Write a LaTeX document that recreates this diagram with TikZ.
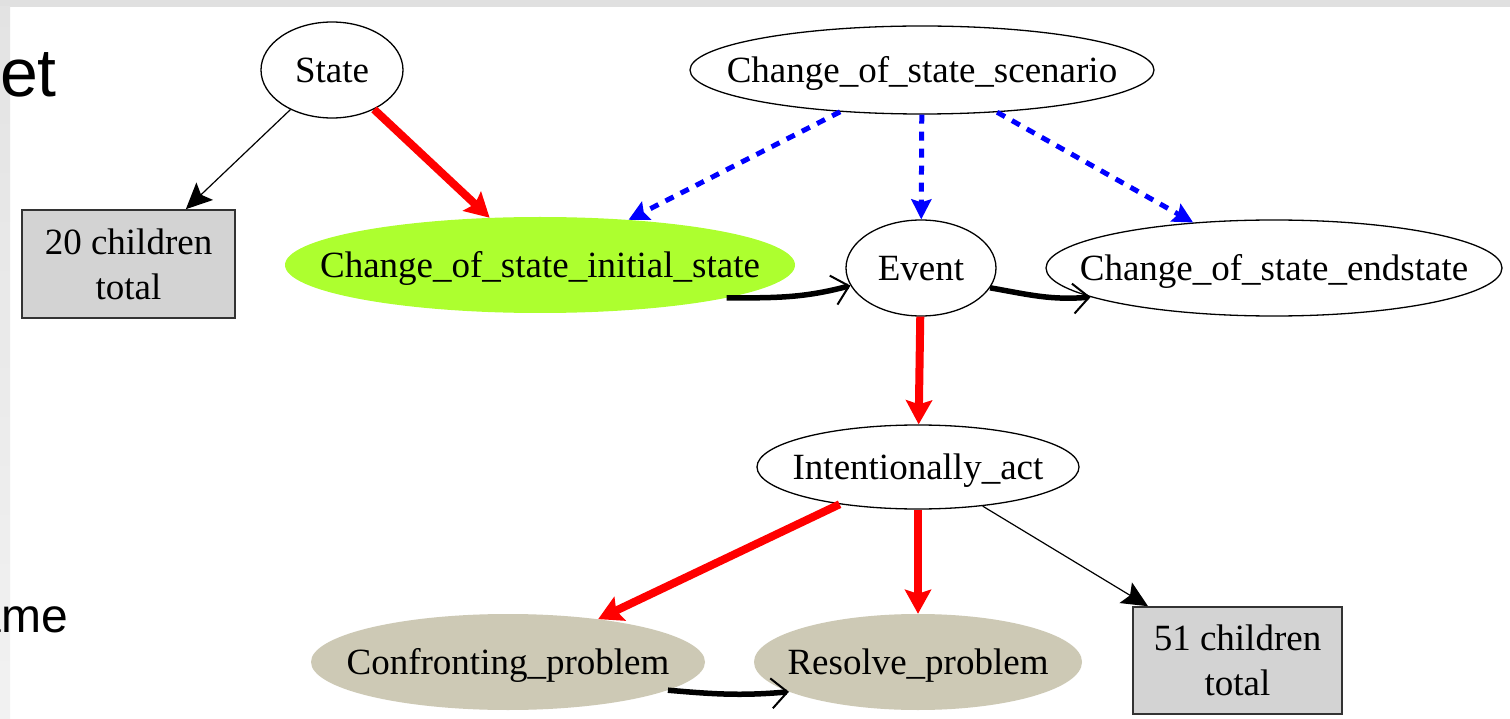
\documentclass[tikz,border=0pt]{standalone}
\usepackage{fontspec}
\setmainfont{Liberation Serif}
\newfontfamily\slidefont{Liberation Sans}
\usetikzlibrary{arrows.meta,shapes.geometric}

\definecolor{bandgray}{HTML}{E0E0E0}
\definecolor{stripgray}{HTML}{ECECEC}
\definecolor{boxgray}{HTML}{D3D3D3}
\definecolor{initgreen}{HTML}{ADFF2F}
\definecolor{problemtan}{HTML}{CDC9B5}
\definecolor{linkred}{HTML}{FF0000}
\definecolor{linkblue}{HTML}{0000FF}

% label set inside an oval without letting it widen the oval
\newcommand{\ovaltext}[1]{\raisebox{-0.33em}[0pt][0pt]{\makebox[0pt]{#1}}}

\tikzset{
  every node/.style={font=\fontsize{37}{45}\selectfont, inner sep=0pt},
  frameoval/.style={ellipse, draw=black, line width=1.3pt},
  filledoval/.style={ellipse},
  countbox/.style={rectangle, draw=black!80, line width=1.6pt, fill=boxgray, align=center},
  thinlink/.style={draw=black, line width=1.2pt, -{Stealth[length=26pt, width=24pt, inset=5pt]}},
  redlink/.style={draw=linkred, line width=8pt, -{Stealth[length=24pt, width=26pt, inset=4pt]}},
  bluelink/.style={draw=linkblue, line width=5pt, dash pattern=on 9pt off 8pt,
    -{Stealth[length=20pt, width=20pt, inset=3pt]}},
  seqlink/.style={draw=black, line width=5.5pt,
    -{Straight Barb[length=16pt, width=30pt, line width=2pt]}},
}

\begin{document}
\begin{tikzpicture}[x=1pt, y=-1pt]
  \useasboundingbox (0,0) rectangle (1510,719);
  \begin{scope}
  \clip (0,0) rectangle (1510,719);

  % slide backdrop
  \fill[white] (0,0) rectangle (1510,719);
  \fill[bandgray] (0,0) rectangle (1510,7);
  \shade[top color=bandgray!90!white, bottom color=stripgray!70!white] (0,7) rectangle (10,719);

  % slide text partly hidden behind the graph
  \node[anchor=base east, font=\slidefont\fontsize{68}{80}\selectfont] (titletail) at (57,97) {et};
  \node[anchor=base east, font=\slidefont\fontsize{48}{56}\selectfont] (bodytail) at (68,632) {ame};

  % frames
  \node[frameoval, minimum width=142pt, minimum height=96pt] (state) at (332,70) {\ovaltext{State}};
  \node[frameoval, minimum width=464pt, minimum height=88pt] (scen) at (922,70) {\ovaltext{Change\_of\_state\_scenario}};
  \node[countbox, minimum width=213pt, minimum height=108pt] (kids20) at (128.5,264) {20 children\\total};
  \node[filledoval, fill=initgreen, minimum width=510pt, minimum height=96pt] (init) at (540,265) {\ovaltext{Change\_of\_state\_initial\_state}};
  \node[frameoval, minimum width=150pt, minimum height=96pt] (event) at (921,268) {\ovaltext{Event}};
  \node[frameoval, minimum width=456pt, minimum height=96pt] (endst) at (1274,268) {\ovaltext{Change\_of\_state\_endstate}};
  \node[frameoval, minimum width=322pt, minimum height=84pt] (intact) at (918,467) {\ovaltext{Intentionally\_act}};
  \node[filledoval, fill=problemtan, minimum width=394pt, minimum height=96pt] (confront) at (508,662) {\ovaltext{Confronting\_problem}};
  \node[filledoval, fill=problemtan, minimum width=328pt, minimum height=96pt] (resolve) at (918,662) {\ovaltext{Resolve\_problem}};
  \node[countbox, minimum width=209pt, minimum height=107pt] (kids51) at (1237.5,660.5) {51 children\\total};

  % relations
  \draw[thinlink] (state) -- (kids20);
  \draw[redlink] (state) -- (init);
  \draw[bluelink] (scen) -- (init);
  \draw[bluelink] (scen) -- (event);
  \draw[bluelink] (scen) -- (endst);
  \draw[seqlink] (init.-10) to[out=0, in=195] (event.194);
  \draw[seqlink] (event.-16) to[out=-10, in=185] (endst.-171);
  \draw[redlink] (event) -- (intact);
  \draw[redlink] (intact) -- (confront);
  \draw[redlink] (intact) -- (resolve);
  \draw[thinlink] (intact) -- (kids51);
  \draw[seqlink] (confront.-10) to[out=-5, in=185] (resolve.-167);
  \end{scope}
\end{tikzpicture}
\end{document}
